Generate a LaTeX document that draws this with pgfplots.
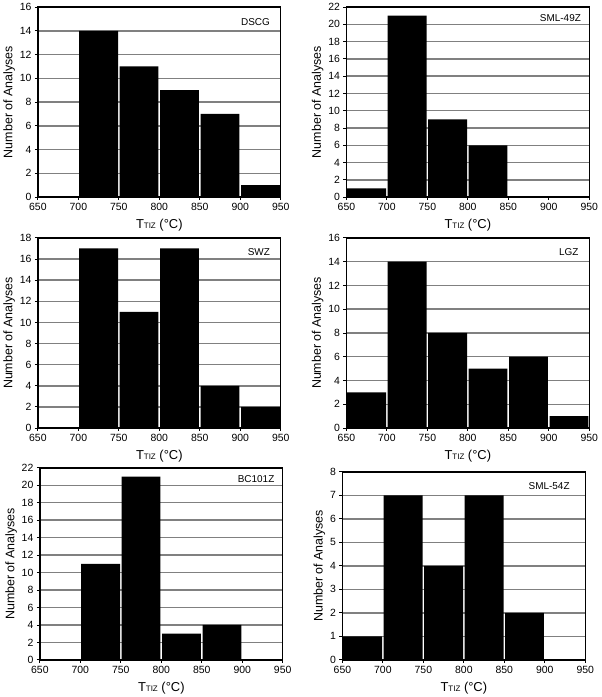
\documentclass[border=0pt]{standalone}
\usepackage{fontspec}
\setmainfont{Liberation Sans}
\usepackage{pgfplots}
\pgfplotsset{compat=1.18}

\pgfplotsset{
  hist/.style={
    scale only axis,
    width=244pt, height=191pt,
    xmin=650, xmax=950, ymin=0,
    xtick={650,700,...,950},
    enlargelimits=false,
    ybar, bar width=48, bar shift=0pt,
    ymajorgrids,
    grid style={black!50, line width=1.5pt},
    axis line style={line width=1.4pt},
    tick style={black, line width=0.9pt, major tick length=3pt},
    tick align=outside,
    xtick pos=bottom, ytick pos=left,
    ticklabel style={font=\fontsize{10.5}{12}\selectfont},
    /pgf/number format/assume math mode=true,
    /pgf/number format/1000 sep={},
    xlabel={T{\footnotesize TIZ} (°C)},
    ylabel={Number of Analyses},
    xlabel style={font=\fontsize{13}{14}\selectfont, yshift=-1pt},
    ylabel style={font=\fontsize{12.5}{14}\selectfont, yshift=-2pt},
  },
  bars/.style={fill=black, draw=none},
}
\tikzset{tag/.style={anchor=north east, font=\fontsize{10}{11}\selectfont}}

\begin{document}
\begin{tikzpicture}
\path (0,0) rectangle (600pt,-697pt);

% DSCG
\begin{axis}[hist, at={(36pt,-197pt)}, anchor=south west, ymax=16, ytick={0,2,...,16}]
  \addplot[bars] coordinates {(725,14) (775,11) (825,9) (875,7) (925,1)};
  \node[tag] at (rel axis cs:0.97,0.96) {DSCG};
\end{axis}

% SML-49Z
\begin{axis}[hist, at={(346pt,-197pt)}, anchor=south west, ymax=22, ytick={0,2,...,22}]
  \addplot[bars] coordinates {(675,1) (725,21) (775,9) (825,6)};
  \node[tag] at (rel axis cs:0.98,0.98) {SML-49Z};
\end{axis}

% SWZ
\begin{axis}[hist, at={(36pt,-429pt)}, anchor=south west, ymax=18, ytick={0,2,...,18}]
  \addplot[bars] coordinates {(725,17) (775,11) (825,17) (875,4) (925,2)};
  \node[tag] at (rel axis cs:0.97,0.96) {SWZ};
\end{axis}

% LGZ
\begin{axis}[hist, at={(346pt,-429pt)}, anchor=south west, ymax=16, ytick={0,2,...,16}]
  \addplot[bars] coordinates {(675,3) (725,14) (775,8) (825,5) (875,6) (925,1)};
  \node[tag] at (rel axis cs:0.97,0.96) {LGZ};
\end{axis}

% BC101Z
\begin{axis}[hist, at={(38pt,-662pt)}, anchor=south west, height=193pt, ymax=22, ytick={0,2,...,22}]
  \addplot[bars] coordinates {(725,11) (775,21) (825,3) (875,4)};
  \node[tag] at (rel axis cs:0.98,0.98) {BC101Z};
\end{axis}

% SML-54Z
\begin{axis}[hist, at={(342pt,-662pt)}, anchor=south west, height=189pt, ymax=8, ytick={0,1,...,8}]
  \addplot[bars] coordinates {(675,1) (725,7) (775,4) (825,7) (875,2)};
  \node[tag] at (rel axis cs:0.95,0.96) {SML-54Z};
\end{axis}
\end{tikzpicture}
\end{document}
